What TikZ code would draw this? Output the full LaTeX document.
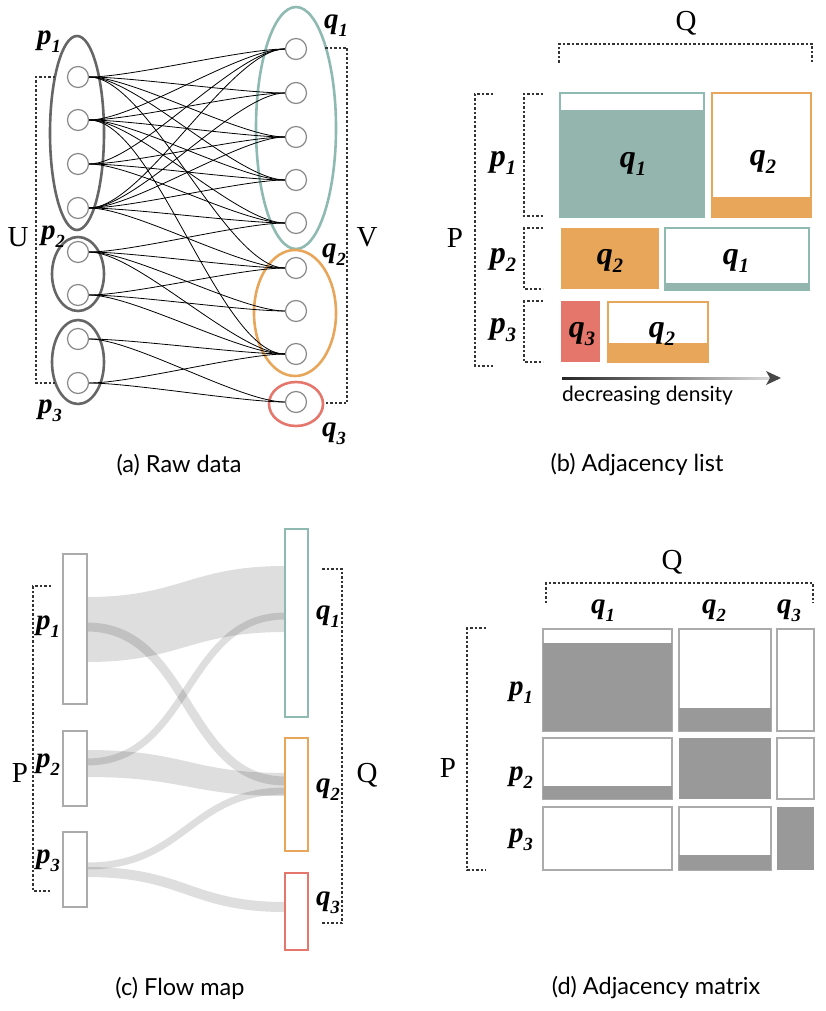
\documentclass[tikz,border=0pt]{standalone}
\usepackage{fontspec}
\setmainfont{Liberation Serif}
\newfontfamily\capfont{Lato}
\usetikzlibrary{arrows.meta}
\definecolor{tealb}{HTML}{8FBAB2}
\definecolor{tealf}{HTML}{93B5AD}
\definecolor{orng}{HTML}{E8A65A}
\definecolor{redc}{HTML}{E5766B}
\definecolor{dgray}{HTML}{666666}
\definecolor{cgray}{HTML}{8A8A8A}
\definecolor{mgray}{HTML}{999999}
\definecolor{bgray}{HTML}{ABABAB}
\newcommand\lb[2]{\textbf{\textit{#1}}\raisebox{-0.6ex}{\scalebox{0.64}{\textbf{\textit{#2}}}}}
\begin{document}
\begin{tikzpicture}[x=1pt,y=-1pt,
  vert/.style={circle,draw=cgray,line width=1.2pt,fill=white,minimum size=21pt,inner sep=0pt},
  edge/.style={black,line width=0.8pt},
  grp/.style={line width=2.6pt},
  lab/.style={font=\fontsize{29}{31}\selectfont,inner sep=0pt},
  blab/.style={font=\fontsize{32}{34}\selectfont,inner sep=0pt},
  big/.style={font=\fontsize{29}{31}\selectfont,inner sep=0pt},
  captxt/.style={font=\capfont\fontsize{23.5}{26}\selectfont,inner sep=0pt},
  brk/.style={draw=black!80,line width=1.1pt,dash pattern=on 2.5pt off 2pt},
  rbox/.style={rectangle,draw=bgray,line width=2pt,fill=white,inner sep=0pt},
  cell/.style={draw=bgray,line width=1.5pt,fill=white},
  flow/.style={fill=black,fill opacity=0.13},
  fline/.style={draw=black,draw opacity=0.13,line cap=butt}
]
\useasboundingbox (0,0) rectangle (825,1011);

% ================= (a) Raw data =================
\draw[grp,dgray] (77,133) ellipse [x radius=27,y radius=97];
\draw[grp,dgray] (78,274) ellipse [x radius=26,y radius=37];
\draw[grp,dgray] (78,362) ellipse [x radius=26,y radius=42];
\draw[grp,tealb] (296,128) ellipse [x radius=40,y radius=121];
\draw[grp,orng] (295,313) ellipse [x radius=41,y radius=63];
\draw[grp,redc] (296,404) ellipse [x radius=27,y radius=22];

\foreach \i/\y in {1/77,2/120,3/164,4/208,5/252,6/295,7/339,8/383}
  \node[vert] (L\i) at (78,\y) {};
\foreach \i/\y in {1/49,2/93,3/137,4/180,5/223,6/268,7/311,8/354,9/402}
  \node[vert] (R\i) at (296,\y) {};

\foreach \a/\b in {1/1,1/2,1/3,1/4,1/6,2/1,2/2,2/3,2/4,2/5,2/8,3/1,3/3,3/4,3/5,
                   4/1,4/2,4/3,4/4,4/5,4/6,5/5,5/6,5/7,5/8,6/6,6/7,6/8,7/8,7/9,8/8,8/9}
  \draw[edge] (L\a.east) to[out=0,in=180,looseness=0.55] (R\b.west);

\draw[brk] (55,77) -- (36,77) -- (36,383) -- (55,383);
\draw[brk] (325,48) -- (347,48) -- (347,403) -- (325,403);
\node[big] (U) at (18,237) {U};
\node[big] (V) at (367,237) {V};
\node[lab] (ap1) at (49,42) {\lb p1};
\node[lab] (ap2) at (53,237) {\lb p2};
\node[lab] (ap3) at (50,411) {\lb p3};
\node[lab] (aq1) at (336,26) {\lb q1};
\node[lab] (aq2) at (334,255) {\lb q2};
\node[lab] (aq3) at (334,434) {\lb q3};
\node[captxt] (capa) at (179,465) {(a) Raw data};

% ================= (b) Adjacency list =================
\draw[brk] (559,63) -- (559,44) -- (812,44) -- (812,63);
\draw[brk] (493,94) -- (475,94) -- (475,366) -- (493,366);
\draw[brk] (543,94) -- (524,94) -- (524,216) -- (543,216);
\draw[brk] (543,228) -- (524,228) -- (524,289) -- (543,289);
\draw[brk] (543,301) -- (524,301) -- (524,362) -- (543,362);
\node[big] (bQ) at (686,23) {Q};
\node[big] (bP) at (455,238) {P};
\node[blab] (bp1) at (503,163) {\lb p1};
\node[blab] (bp2) at (503,260) {\lb p2};
\node[blab] (bp3) at (503,330) {\lb p3};

\draw[tealb,line width=1.5pt,fill=white] (560,93) rectangle (704,217);
\fill[tealf] (560,110) rectangle (704,217);
\draw[orng,line width=1.5pt,fill=white] (712,93) rectangle (811,217);
\fill[orng] (712,197) rectangle (811,217);
\fill[orng] (561,228) rectangle (659,289);
\draw[tealb,line width=1.5pt,fill=white] (665,228) rectangle (809,290);
\fill[tealf] (665,283) rectangle (809,290);
\fill[redc] (561,301) rectangle (600,362);
\draw[orng,line width=1.5pt,fill=white] (608,302) rectangle (708,362);
\fill[orng] (608,343) rectangle (708,362);

\node[blab] (b11) at (633,164) {\lb q1};
\node[blab] (b12) at (763,162) {\lb q2};
\node[blab] (b22) at (610,261) {\lb q2};
\node[blab] (b21) at (736,261) {\lb q1};
\node[blab] (b33) at (582,334) {\lb q3};
\node[blab] (b32) at (662,334) {\lb q2};

\shade[left color=black!85,right color=black!15] (562,377) rectangle (770,379.2);
\fill[black!72] (781,378) -- (766,371) -- (770,378) -- (766,385) -- cycle;
\node[font=\capfont\fontsize{21}{24}\selectfont,inner sep=0pt,anchor=west] (dd) at (562,396) {decreasing density};
\node[captxt] (capb) at (637,465) {(b) Adjacency list};

% ================= (c) Flow map =================
\fill[flow] (87,597) .. controls (180,597) and (190,566) .. (285,566) -- (285,632) .. controls (190,632) and (180,662) .. (87,662) -- cycle;
\fill[flow] (87,750) .. controls (185,750) and (190,773) .. (285,773) -- (285,796) .. controls (190,796) and (185,777) .. (87,777) -- cycle;
\draw[fline,line width=9pt] (87,627) .. controls (190,627) and (185,781) .. (285,781);
\draw[fline,line width=7pt] (87,762) .. controls (190,762) and (185,616) .. (285,616);
\draw[fline,line width=7pt] (87,866) .. controls (185,866) and (190,791) .. (285,791);
\draw[fline,line width=10pt] (87,872) .. controls (185,872) and (190,907) .. (285,907);

\node[rbox,minimum width=24pt,minimum height=150pt] (cp1) at (75,629) {};
\node[rbox,minimum width=24pt,minimum height=75pt] (cp2) at (75,768.5) {};
\node[rbox,minimum width=24pt,minimum height=75pt] (cp3) at (75,869.5) {};
\node[rbox,draw=tealb,minimum width=23pt,minimum height=188pt] (cq1) at (296.5,623) {};
\node[rbox,draw=orng,minimum width=23pt,minimum height=113pt] (cq2) at (296.5,794.5) {};
\node[rbox,draw=redc,minimum width=23pt,minimum height=77pt] (cq3) at (296.5,911.5) {};

\draw[brk] (51,586) -- (33,586) -- (33,891) -- (51,891);
\draw[brk] (322,569) -- (342,569) -- (342,923) -- (322,923);
\node[big] (cP) at (20,773) {P};
\node[big] (cQ) at (367,775) {Q};
\node[lab] (cp1l) at (48,627) {\lb p1};
\node[lab] (cp2l) at (48,765) {\lb p2};
\node[lab] (cp3l) at (48,861) {\lb p3};
\node[lab] (cq1l) at (328,617) {\lb q1};
\node[lab] (cq2l) at (328,790) {\lb q2};
\node[lab] (cq3l) at (328,903) {\lb q3};
\node[captxt] (capc) at (180,988) {(c) Flow map};

% ================= (d) Adjacency matrix =================
\draw[brk] (546,603) -- (546,583) -- (813,583) -- (813,603);
\draw[brk] (486,628) -- (467,628) -- (467,870) -- (486,870);
\node[big] (dQ) at (672,562) {Q};
\node[big] (dP) at (448,768) {P};
\node[lab] (dq1) at (603,611) {\lb q1};
\node[lab] (dq2) at (714,611) {\lb q2};
\node[lab] (dq3) at (789,611) {\lb q3};
\node[lab] (dp1) at (521,693) {\lb p1};
\node[lab] (dp2) at (521,778) {\lb p2};
\node[lab] (dp3) at (521,840) {\lb p3};

\draw[cell] (543,629) rectangle (672,731); \fill[mgray] (543,643) rectangle (672,731);
\draw[cell] (679,629) rectangle (771,731); \fill[mgray] (679,708) rectangle (771,731);
\draw[cell] (777,629) rectangle (814,731);
\draw[cell] (543,738) rectangle (672,799); \fill[mgray] (543,786) rectangle (672,799);
\fill[mgray] (679,738) rectangle (771,799);
\draw[cell] (777,738) rectangle (814,799);
\draw[cell] (543,807) rectangle (672,870);
\draw[cell] (679,807) rectangle (771,870); \fill[mgray] (679,855) rectangle (771,870);
\fill[mgray] (777,807) rectangle (814,870);
\node[captxt] (capd) at (656,988) {(d) Adjacency matrix};
\end{tikzpicture}
\end{document}
